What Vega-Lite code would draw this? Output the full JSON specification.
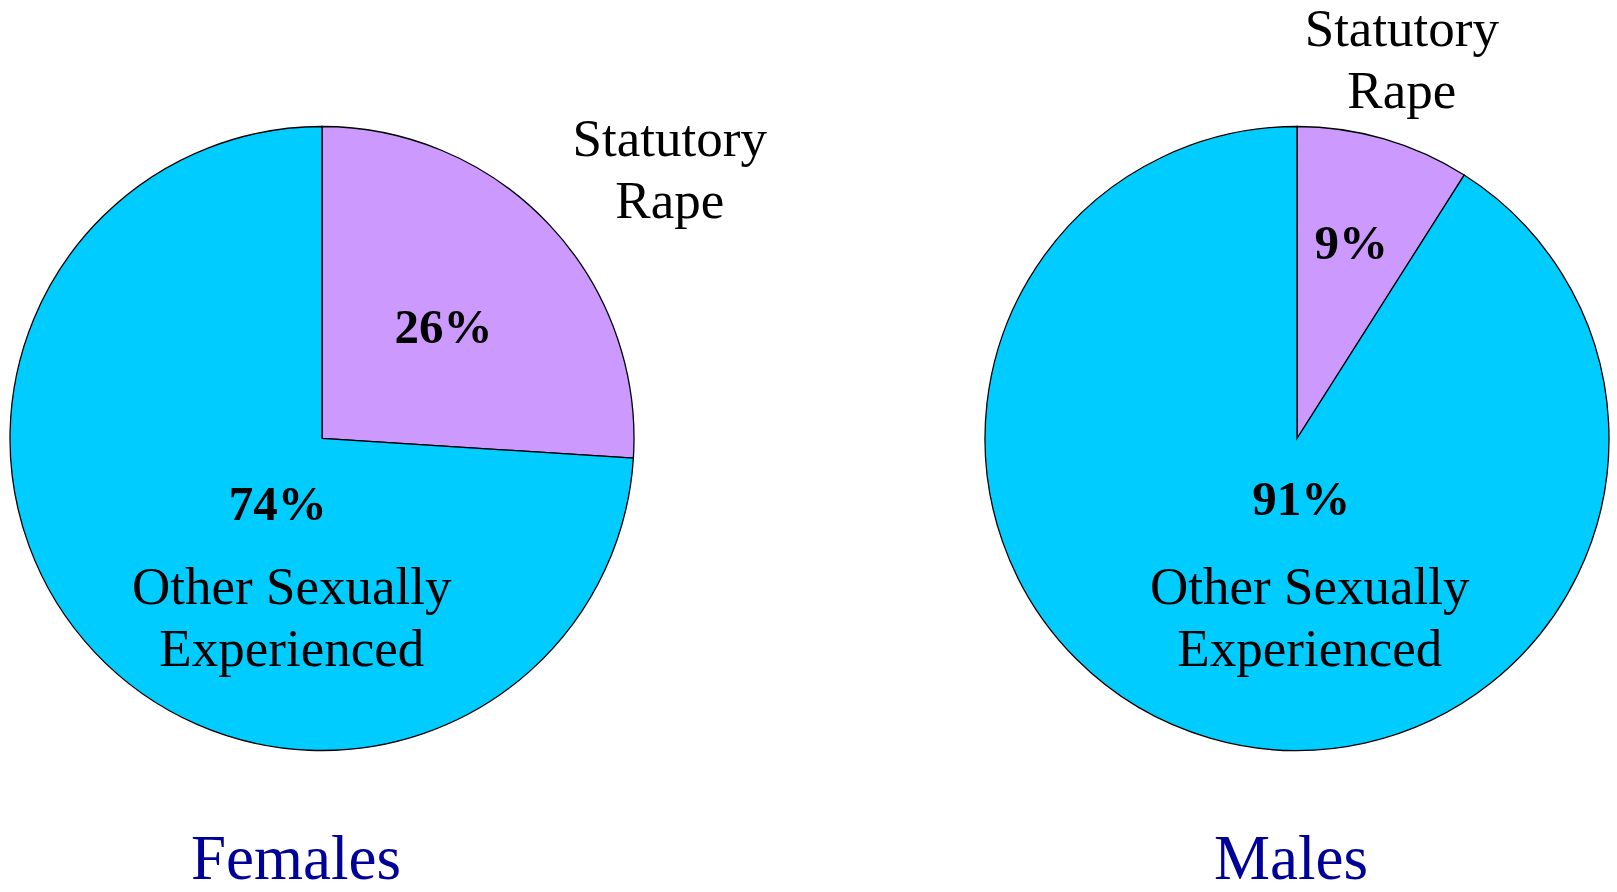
{
  "$schema": "https://vega.github.io/schema/vega-lite/v6.json",
  "padding": {"left": 2, "top": 0, "right": 0, "bottom": 0},
  "bounds": "flush",
  "spacing": 335,
  "config": {"view": {"stroke": null}, "font": "Liberation Serif"},
  "data": {
    "values": [
      {"gender": "Females", "category": "Statutory Rape", "share": 0.26, "label": "Statutory\nRape"},
      {"gender": "Females", "category": "Other Sexually Experienced", "share": 0.74, "label": "Other Sexually\nExperienced"},
      {"gender": "Males", "category": "Statutory Rape", "share": 0.09, "label": "Statutory\nRape"},
      {"gender": "Males", "category": "Other Sexually Experienced", "share": 0.91, "label": "Other Sexually\nExperienced"}
    ]
  },
  "hconcat": [
    {
      "width": 640,
      "height": 877,
      "transform": [{"filter": "datum.gender === 'Females'"}],
      "title": {"text": "Females", "orient": "bottom", "frame": "group", "anchor": "middle", "baseline": "alphabetic", "offset": 2, "dx": -26, "font": "Liberation Serif", "fontSize": 63, "fontWeight": "normal", "color": "#000099"},
      "encoding": {
        "theta": {"field": "share", "type": "quantitative", "stack": true},
        "order": {"field": "category", "type": "nominal", "sort": "descending"},
        "detail": {"field": "category", "type": "nominal"}
      },
      "layer": [
        {
          "mark": {"type": "arc", "outerRadius": 312, "stroke": "black", "strokeWidth": 1.3},
          "encoding": {
            "color": {"field": "category", "type": "nominal", "scale": {"domain": ["Statutory Rape", "Other Sexually Experienced"], "range": ["#CC99FF", "#00CCFF"]}, "legend": null}
          }
        },
        {
          "mark": {"type": "text", "radius": 440, "dx": 27, "dy": 3, "font": "Liberation Serif", "fontSize": 53, "lineHeight": 62, "lineBreak": "\n", "color": "black"},
          "encoding": {"text": {"condition": {"test": "datum.category === 'Statutory Rape'", "field": "label"}, "value": ""}}
        },
        {
          "mark": {"type": "text", "radius": 164, "dx": 2, "dy": 2, "font": "Liberation Serif", "fontSize": 49, "fontWeight": "bold", "color": "black"},
          "encoding": {"text": {"condition": {"test": "datum.category === 'Statutory Rape'", "field": "share", "type": "quantitative", "format": ".0%"}, "value": ""}}
        },
        {
          "mark": {"type": "text", "radius": 80, "dx": 14, "dy": 12, "font": "Liberation Serif", "fontSize": 49, "fontWeight": "bold", "color": "black"},
          "encoding": {"text": {"condition": {"test": "datum.category === 'Other Sexually Experienced'", "field": "share", "type": "quantitative", "format": ".0%"}, "value": ""}}
        },
        {
          "mark": {"type": "text", "radius": 180, "dx": 101, "dy": 26, "font": "Liberation Serif", "fontSize": 53, "lineHeight": 62, "lineBreak": "\n", "color": "black"},
          "encoding": {"text": {"condition": {"test": "datum.category === 'Other Sexually Experienced'", "field": "label"}, "value": ""}}
        }
      ]
    },
    {
      "width": 640,
      "height": 877,
      "transform": [{"filter": "datum.gender === 'Males'"}],
      "title": {"text": "Males", "orient": "bottom", "frame": "group", "anchor": "middle", "baseline": "alphabetic", "offset": 2, "dx": -6, "font": "Liberation Serif", "fontSize": 63, "fontWeight": "normal", "color": "#000099"},
      "encoding": {
        "theta": {"field": "share", "type": "quantitative", "stack": true},
        "order": {"field": "category", "type": "nominal", "sort": "descending"},
        "detail": {"field": "category", "type": "nominal"}
      },
      "layer": [
        {
          "mark": {"type": "arc", "outerRadius": 312, "stroke": "black", "strokeWidth": 1.3},
          "encoding": {
            "color": {"field": "category", "type": "nominal", "scale": {"domain": ["Statutory Rape", "Other Sexually Experienced"], "range": ["#CC99FF", "#00CCFF"]}, "legend": null}
          }
        },
        {
          "mark": {"type": "text", "radius": 390, "dx": -4, "dy": -34, "font": "Liberation Serif", "fontSize": 53, "lineHeight": 62, "lineBreak": "\n", "color": "black"},
          "encoding": {"text": {"condition": {"test": "datum.category === 'Statutory Rape'", "field": "label"}, "value": ""}}
        },
        {
          "mark": {"type": "text", "radius": 202, "dx": -2, "dy": -1, "font": "Liberation Serif", "fontSize": 49, "fontWeight": "bold", "color": "black"},
          "encoding": {"text": {"condition": {"test": "datum.category === 'Statutory Rape'", "field": "share", "type": "quantitative", "format": ".0%"}, "value": ""}}
        },
        {
          "mark": {"type": "text", "radius": 60, "dx": 21, "dy": 4, "font": "Liberation Serif", "fontSize": 49, "fontWeight": "bold", "color": "black"},
          "encoding": {"text": {"condition": {"test": "datum.category === 'Other Sexually Experienced'", "field": "share", "type": "quantitative", "format": ".0%"}, "value": ""}}
        },
        {
          "mark": {"type": "text", "radius": 180, "dx": 63, "dy": -23, "font": "Liberation Serif", "fontSize": 53, "lineHeight": 62, "lineBreak": "\n", "color": "black"},
          "encoding": {"text": {"condition": {"test": "datum.category === 'Other Sexually Experienced'", "field": "label"}, "value": ""}}
        }
      ]
    }
  ]
}
